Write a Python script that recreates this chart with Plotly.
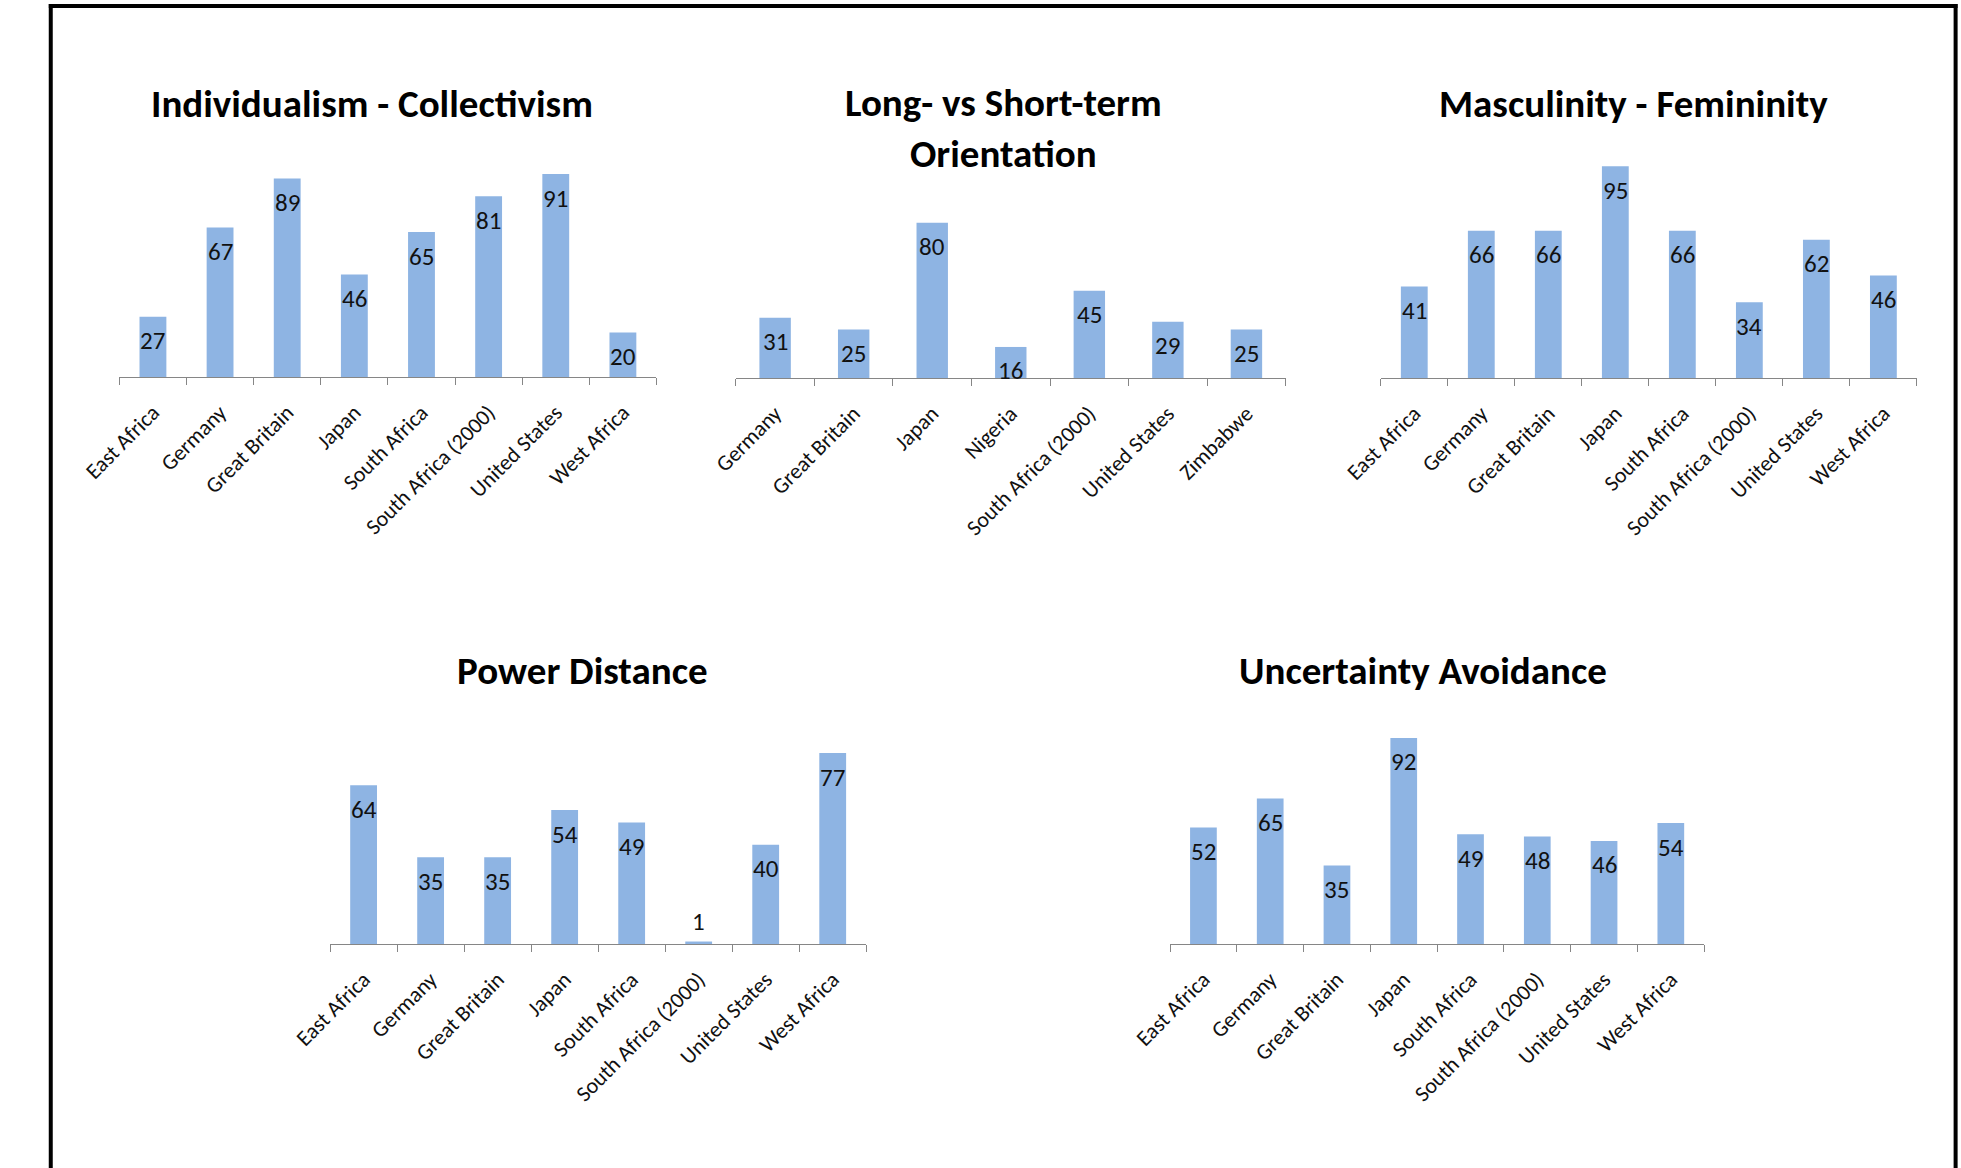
import plotly.graph_objects as go

# ---- data -------------------------------------------------------------
eight_regions = ["East Africa", "Germany", "Great Britain", "Japan", "South Africa",
                 "South Africa (2000)", "United States", "West Africa"]
lto_regions = ["Germany", "Great Britain", "Japan", "Nigeria", "South Africa (2000)",
               "United States", "Zimbabwe"]

individualism = [27, 67, 89, 46, 65, 81, 91, 20]
long_term = [31, 25, 80, 16, 45, 29, 25]
masculinity = [41, 66, 66, 95, 66, 34, 62, 46]
power_distance = [64, 35, 35, 54, 49, 1, 40, 77]
uncertainty = [52, 65, 35, 92, 49, 48, 46, 54]

titles = ["Individualism - Collectivism", "Long- vs Short-term<br>Orientation",
          "Masculinity - Femininity", "Power Distance", "Uncertainty Avoidance"]

# ---- page geometry (pixels) -------------------------------------------
W, H = 1961, 1168
BAR_COLOR = "#8EB4E3"
AXIS_COLOR = "#868686"
FONT = "Carlito, Calibri, Lato, sans-serif"

panels = [
    # categories, values, x-span px, (top px, baseline px), title centre px
    dict(cats=eight_regions, vals=individualism, xs=(82, 630), ys=(154, 377), title=(340, 103)),
    dict(cats=lto_regions, vals=long_term, xs=(711, 1272), ys=(184, 378), title=(984, 128)),
    dict(cats=eight_regions, vals=masculinity, xs=(1369, 1916), ys=(155, 378), title=(1627, 103)),
    dict(cats=eight_regions, vals=power_distance, xs=(297, 844), ys=(696, 944), title=(555, 670)),
    dict(cats=eight_regions, vals=uncertainty, xs=(1154, 1699), ys=(720, 944), title=(1412, 670)),
]


def px_x(p):
    return p / W


def px_y(p):
    return 1 - p / H


fig = go.Figure()
annotations = []
layout_axes = {}

for i, (panel, title) in enumerate(zip(panels, titles), start=1):
    sfx = "" if i == 1 else str(i)
    xa, ya = "x" + sfx, "y" + sfx

    fig.add_trace(go.Bar(
        x=panel["cats"], y=panel["vals"], xaxis=xa, yaxis=ya,
        width=0.4, marker=dict(color=BAR_COLOR, line=dict(width=0)),
        hoverinfo="x+y", showlegend=False,
    ))

    layout_axes["xaxis" + sfx] = dict(
        domain=[px_x(panel["xs"][0]), px_x(panel["xs"][1])],
        anchor=ya, type="category", range=[-0.5, len(panel["cats"]) - 0.5],
        showline=True, linecolor=AXIS_COLOR, linewidth=1,
        ticks="outside", tickson="boundaries", ticklen=7, tickcolor=AXIS_COLOR,
        ticklabelstandoff=13,
        tickangle=-45, tickfont=dict(family=FONT, size=22, color="#111111"),
        showgrid=False, zeroline=False, fixedrange=True,
    )
    layout_axes["yaxis" + sfx] = dict(
        domain=[px_y(panel["ys"][1]), px_y(panel["ys"][0])],
        anchor=xa, range=[0, 100], visible=False, fixedrange=True,
    )

    # value labels just inside the top of each bar (above it when the bar is tiny)
    for c, v in zip(panel["cats"], panel["vals"]):
        annotations.append(dict(
            x=c, y=v, xref=xa, yref=ya, text=str(v), showarrow=False,
            yanchor="middle", yshift=(20 if v < 10 else -24),
            font=dict(family=FONT, size=25, color="#111111"),
        ))

    annotations.append(dict(
        x=px_x(panel["title"][0]), y=px_y(panel["title"][1]), xref="paper", yref="paper",
        text="<b>" + title + "</b>", showarrow=False, xanchor="center", yanchor="middle",
        font=dict(family=FONT, size=39, color="#000000"),
    ))

# outer frame (its bottom edge runs off the page)
frame = dict(type="line", xref="paper", yref="paper", line=dict(color="#000000", width=4))
shapes = [
    dict(frame, x0=px_x(12), x1=px_x(12), y0=px_y(4), y1=px_y(1200)),
    dict(frame, x0=px_x(1955.5), x1=px_x(1955.5), y0=px_y(4), y1=px_y(1200)),
    dict(frame, x0=px_x(10), x1=px_x(1957.5), y0=px_y(6), y1=px_y(6)),
]

fig.update_layout(
    width=W, height=H, margin=dict(l=0, r=0, t=0, b=0),
    paper_bgcolor="white", plot_bgcolor="white",
    annotations=annotations, shapes=shapes, showlegend=False,
    **layout_axes,
)

fig.write_html("out.html", include_plotlyjs=True, config={"displayModeBar": False})
